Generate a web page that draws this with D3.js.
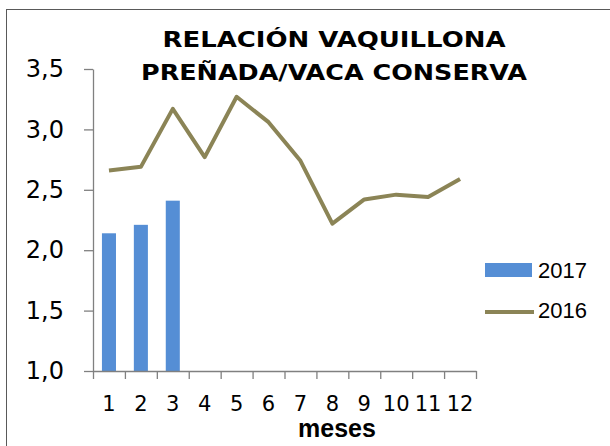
<!DOCTYPE html>
<html><head><meta charset="utf-8">
<script src="https://cdn.jsdelivr.net/npm/d3@7"></script>
<style>body{margin:0;background:#fff}svg{display:block}</style>
</head><body>
<svg id="c" width="610" height="446"></svg>
<script>
const months = ["1","2","3","4","5","6","7","8","9","10","11","12"];
const values2017 = [2.14, 2.21, 2.41];
const values2016 = [2.66, 2.69, 3.17, 2.77, 3.27, 3.06, 2.74, 2.22, 2.42, 2.46, 2.44, 2.59];
const yTicks = [1.0, 1.5, 2.0, 2.5, 3.0, 3.5];
const titleLines = ["RELACIÓN VAQUILLONA", "PREÑADA/VACA CONSERVA"];
const seriesNames = ["2017", "2016"];
const xTitle = "meses";

const svg = d3.select("#c");
// outer frame
svg.append("rect").attr("x",6.5).attr("y",9.5).attr("width",620).attr("height",460)
  .attr("fill","none").attr("stroke","#595959").attr("stroke-width",1);

const x = d3.scaleBand().domain(months).range([93, 476]).paddingInner(0.56).paddingOuter(0.28);
const xp = d3.scalePoint().domain(months).range([93, 476]).padding(0.5);
const y = d3.scaleLinear().domain([1, 3.5]).range([371, 69]);
const fmt = d => d.toFixed(1).replace(".", ",");

// bars
svg.append("g").selectAll("rect").data(values2017).join("rect")
  .attr("x", (d,i) => x(months[i]))
  .attr("width", x.bandwidth())
  .attr("y", d => y(d))
  .attr("height", d => y(1) - y(d))
  .attr("fill", "#558ed5");

// line
svg.append("path").datum(values2016)
  .attr("fill","none").attr("stroke","#8b8456").attr("stroke-width",4)
  .attr("stroke-linejoin","round")
  .attr("d", d3.line().x((d,i) => xp(months[i])).y(d => y(d)));

// y axis
const gy = svg.append("g").attr("transform","translate(93,0)")
  .call(d3.axisLeft(y).tickValues(yTicks).tickFormat(fmt).tickSize(9).tickSizeOuter(0).tickPadding(20));
gy.select(".domain").attr("stroke","#808080").attr("stroke-width",1.3);
gy.selectAll(".tick line").attr("stroke","#808080").attr("stroke-width",1.3);
gy.selectAll("text").attr("font-family","DejaVu Sans, Verdana, sans-serif").attr("font-size",24).attr("fill","#000");

// x axis
const xTickAxis = d3.scaleLinear().domain([0,12]).range([93,476]);
const gx = svg.append("g").attr("transform","translate(0,371)");
gx.call(d3.axisBottom(xTickAxis).tickValues(d3.range(0,13)).tickFormat("").tickSize(8).tickSizeOuter(0));
gx.select(".domain").attr("stroke","#808080").attr("stroke-width",1.3);
gx.selectAll(".tick line").attr("stroke","#808080").attr("stroke-width",1.3);
svg.append("g").selectAll("text").data(months).join("text")
  .attr("x", d => xp(d)).attr("y", 411)
  .attr("text-anchor","middle")
  .attr("font-family","DejaVu Sans, Verdana, sans-serif").attr("font-size",21)
  .text(d => d);

svg.append("text").attr("x",337).attr("y",437).attr("text-anchor","middle")
  .attr("font-family","Liberation Sans, Arial, sans-serif").attr("font-weight","bold").attr("font-size",25)
  .text(xTitle);

// title
const tw = [343, 386];
titleLines.forEach((t,i) => {
  svg.append("text").attr("x",334).attr("y", 47 + i*33).attr("text-anchor","middle")
    .attr("font-family","DejaVu Sans, Verdana, sans-serif").attr("font-weight","bold").attr("font-size",22)
    .attr("textLength", tw[i]).attr("lengthAdjust","spacingAndGlyphs")
    .text(t);
});

// legend
const lg = svg.append("g");
lg.append("rect").attr("x",485).attr("y",263).attr("width",47).attr("height",14).attr("fill","#558ed5");
lg.append("line").attr("x1",485).attr("x2",534).attr("y1",312).attr("y2",312)
  .attr("stroke","#8b8456").attr("stroke-width",4);
lg.selectAll("text").data(seriesNames).join("text")
  .attr("x",538).attr("y",(d,i) => 278 + i*40)
  .attr("font-family","Liberation Sans, Arial, sans-serif").attr("font-size",22)
  .text(d => d);
</script>
</body></html>
